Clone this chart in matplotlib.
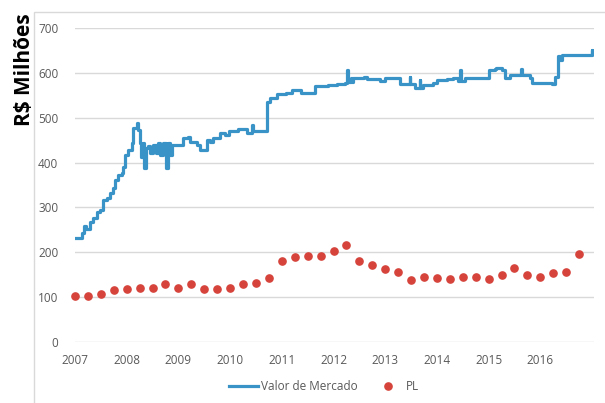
import matplotlib
matplotlib.use("Agg")
import matplotlib.pyplot as plt
from matplotlib.patches import Rectangle

plt.rcParams['font.family'] = ['Open Sans', 'DejaVu Sans']

# Valor de Mercado (R$ milhões) - pontos de mudança da série em degraus
anos_mercado = [2007.00, 2007.13, 2007.17, 2007.21, 2007.29, 2007.35, 2007.42, 2007.48,
                2007.54, 2007.61, 2007.68, 2007.74, 2007.77, 2007.84, 2007.90, 2007.93,
                2007.97, 2008.03, 2008.10, 2008.13, 2008.19, 2008.22, 2008.26, 2008.28,
                2008.31, 2008.33, 2008.37, 2008.41, 2008.45, 2008.51, 2008.57, 2008.61,
                2008.64, 2008.70, 2008.76, 2008.80, 2008.84, 2008.87, 2009.09, 2009.19,
                2009.22, 2009.35, 2009.42, 2009.55, 2009.61, 2009.67, 2009.80, 2009.90,
                2009.97, 2010.16, 2010.32, 2010.42, 2010.44, 2010.71, 2010.77, 2010.90,
                2011.09, 2011.19, 2011.37, 2011.64, 2011.90, 2012.06, 2012.22, 2012.27,
                2012.28, 2012.33, 2012.36, 2012.38, 2012.58, 2012.64, 2012.90, 2013.00,
                2013.29, 2013.47, 2013.48, 2013.58, 2013.67, 2013.68, 2013.74, 2013.93,
                2014.00, 2014.19, 2014.32, 2014.41, 2014.45, 2014.46, 2014.54, 2015.01,
                2015.12, 2015.15, 2015.25, 2015.32, 2015.41, 2015.63, 2015.65, 2015.80,
                2015.83, 2016.22, 2016.28, 2016.35, 2016.38, 2016.41, 2016.99, 2017.00,
                2017.04]
valor_mercado = [231, 242, 258, 251, 268, 276, 290, 294,
                 316, 320, 333, 343, 361, 372, 376, 391,
                 417, 428, 443, 477, 488, 473, 443, 413,
                 443, 387, 432, 437, 421, 440, 421, 443,
                 418, 443, 387, 443, 418, 439, 454, 458,
                 447, 439, 428, 450, 445, 454, 465, 461,
                 471, 474, 465, 484, 471, 536, 544, 553,
                 555, 562, 555, 570, 573, 575, 577, 607,
                 580, 588, 580, 588, 592, 586, 582, 588,
                 575, 590, 575, 566, 585, 566, 573, 577,
                 584, 586, 588, 583, 607, 583, 588, 607,
                 610, 612, 607, 588, 596, 610, 596, 588,
                 577, 575, 592, 637, 630, 640, 651, 642,
                 642]

# PL trimestral (R$ milhões)
anos_pl = [2007 + 0.25 * i for i in range(40)]
pl = [102, 103, 106, 115, 118, 121, 121, 128, 119, 130,
      118, 118, 119, 130, 132, 142, 180, 189, 191, 191,
      203, 217, 180, 172, 162, 155, 138, 144, 143, 139,
      144, 144, 141, 149, 164, 150, 145, 153, 156, 196]

azul = '#3a93c7'
vermelho = '#d6433b'
cinza = '#595959'

fig = plt.figure(figsize=(6.05, 4.03), dpi=100)
ax = fig.add_axes([0.124, 0.152, 0.858, 0.778])

ax.plot(anos_mercado, valor_mercado, drawstyle='steps-post', color=azul,
        linewidth=2.3, label='Valor de Mercado', zorder=3)
ax.plot(anos_pl, pl, linestyle='none', marker='o', markersize=5.2,
        color=vermelho, label='PL', clip_on=False, zorder=4)

ax.set_xlim(2007, 2017.04)
ax.set_ylim(0, 700)
ax.set_xticks(range(2007, 2017))
ax.set_yticks(range(0, 701, 100))
ax.grid(axis='y', color='#d9d9d9', linewidth=1)
ax.set_axisbelow(True)
for lado in ['top', 'right', 'left', 'bottom']:
    ax.spines[lado].set_visible(False)
ax.tick_params(length=0, colors=cinza, labelsize=8.5)
ax.tick_params(axis='y', pad=12)
ax.tick_params(axis='x', pad=9)

fig.text(0.040, 0.827, 'R$ Milhões', rotation=90, ha='center', va='center',
         fontsize=15, fontweight='bold', color='black')

fig.legend(loc='center', bbox_to_anchor=(0.536, 0.040), ncol=2, frameon=False,
           fontsize=8.5, labelcolor=cinza, handlelength=2.4, handletextpad=0.3,
           columnspacing=1.4, borderpad=0)

# moldura clara do gráfico
fig.patches.append(Rectangle((0.056, -0.1), 1.2, 1.07, transform=fig.transFigure,
                             fill=False, edgecolor='#d9d9d9', linewidth=1))

fig.savefig('out.png', dpi=100)
